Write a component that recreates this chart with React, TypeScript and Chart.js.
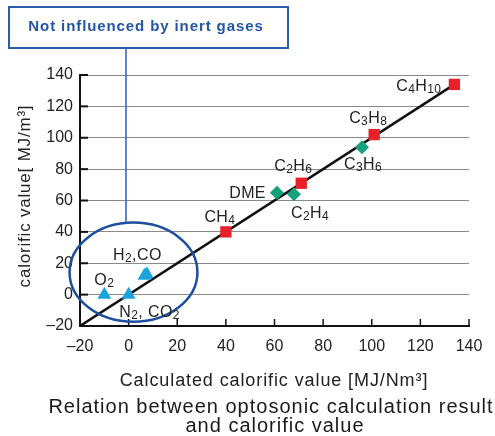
import React, { useEffect, useRef } from 'react';
import { Chart, registerables } from 'chart.js';

Chart.register(...registerables);

// ---- data ----
const alkaneNames = ['CH_4', 'C_2H_6', 'C_3H_8', 'C_4H_{10}'];
const alkaneX = [40, 71, 101, 134];
const alkaneY = [40, 71, 102, 134];

const otherNames = ['DME', 'C_2H_4', 'C_3H_6'];
const otherX = [61, 68, 96];
const otherY = [65, 64, 94];

const inertNames = ['O_2', 'N_2, CO_2', 'H_2,CO', ''];
const inertX = [-10, 0, 6.5, 7.5];
const inertY = [0, 0, 12, 13];

const fitX = [-20, 134];
const fitY = [-20, 134];

const xTickLabels = ['–20', '0', '20', '40', '60', '80', '100', '120', '140'];
const yTickLabels = ['–20', '0', '20', '40', '60', '80', '100', '120', '140'];

const ellipseCenter = [2, 14.3];
const ellipseRadii = [26.3, 31.6];

const calloutText = 'Not influenced by inert gases';
const xTitle = 'Calculated calorific value [MJ/Nm³]';
const yTitle = 'calorific value[ MJ/m³]';
const chartTitle = ['Relation between optosonic calculation result', 'and calorific value'];

// label placement (pixel offsets from the point, and alignment)
const alkaneLabelPos: [number, number, CanvasTextAlign][] = [
  [-6, -16, 'center'],
  [-8, -18, 'center'],
  [-6, -17, 'center'],
  [-13, 1, 'right'],
];
const otherLabelPos: [number, number, CanvasTextAlign][] = [
  [-11, 0, 'right'],
  [16, 18, 'center'],
  [1, 16, 'center'],
];
const inertLabelPos: [number, number, CanvasTextAlign][] = [
  [0, -15, 'center'],
  [21, 17, 'center'],
  [-7, -22, 'center'],
  [0, 0, 'center'],
];

const FONT = '"Liberation Sans", Arial, Helvetica, sans-serif';
const TEXT = '#222222';
const BLUE_DARK = '#1d4f9e';
const BOX_BLUE = '#2a5eab';

function parseRich(text: string) {
  const segs: { t: string; sub: boolean }[] = [];
  let i = 0;
  let buf = '';
  while (i < text.length) {
    const c = text[i];
    if (c === '_') {
      if (buf) { segs.push({ t: buf, sub: false }); buf = ''; }
      if (text[i + 1] === '{') {
        const end = text.indexOf('}', i + 2);
        segs.push({ t: text.slice(i + 2, end), sub: true });
        i = end + 1;
      } else {
        segs.push({ t: text[i + 1], sub: true });
        i += 2;
      }
    } else {
      buf += c;
      i++;
    }
  }
  if (buf) segs.push({ t: buf, sub: false });
  return segs;
}

function drawRich(ctx: CanvasRenderingContext2D, text: string, x: number, cy: number, align: CanvasTextAlign, size: number) {
  const segs = parseRich(text);
  const subSize = Math.round(size * 0.72);
  const mainFont = `${size}px ${FONT}`;
  const subFont = `${subSize}px ${FONT}`;
  (ctx as any).letterSpacing = '0.4px';
  let total = 0;
  const widths = segs.map((s) => {
    ctx.font = s.sub ? subFont : mainFont;
    const w = ctx.measureText(s.t).width;
    total += w;
    return w;
  });
  let sx = x;
  if (align === 'center') sx = x - total / 2;
  else if (align === 'right') sx = x - total;
  const baseline = cy + size * 0.36;
  ctx.textAlign = 'left';
  ctx.textBaseline = 'alphabetic';
  ctx.fillStyle = TEXT;
  segs.forEach((s, k) => {
    ctx.font = s.sub ? subFont : mainFont;
    ctx.fillText(s.t, sx, s.sub ? baseline + 2 : baseline);
    sx += widths[k];
  });
  (ctx as any).letterSpacing = '0px';
}

const overlayPlugin = {
  id: 'overlay',
  beforeDatasetsDraw(chart: any) {
    const { ctx, scales, chartArea } = chart;
    const xs = scales.x;
    const ys = scales.y;
    ctx.save();
    ctx.strokeStyle = '#111';
    ctx.lineWidth = 2;
    ys.ticks.forEach((t: any) => {
      const py = ys.getPixelForValue(t.value);
      ctx.beginPath();
      ctx.moveTo(chartArea.left, py);
      ctx.lineTo(chartArea.left + 8, py);
      ctx.stroke();
    });
    ctx.lineWidth = 1.5;
    xs.ticks.forEach((t: any) => {
      const px = xs.getPixelForValue(t.value);
      ctx.beginPath();
      ctx.moveTo(px, chartArea.bottom);
      ctx.lineTo(px, chartArea.bottom - 7);
      ctx.stroke();
    });
    ctx.restore();
  },
  afterDatasetsDraw(chart: any) {
    const { ctx, scales } = chart;
    const xs = scales.x;
    const ys = scales.y;
    ctx.save();
    const cx = xs.getPixelForValue(ellipseCenter[0]);
    const cy = ys.getPixelForValue(ellipseCenter[1]);
    const rx = Math.abs(xs.getPixelForValue(ellipseCenter[0] + ellipseRadii[0]) - cx);
    const ry = Math.abs(ys.getPixelForValue(ellipseCenter[1] + ellipseRadii[1]) - cy);
    ctx.strokeStyle = BLUE_DARK;
    ctx.lineWidth = 2.5;
    ctx.beginPath();
    ctx.ellipse(cx, cy, rx, ry, 0, 0, Math.PI * 2);
    ctx.stroke();

    ctx.strokeStyle = BOX_BLUE;
    ctx.lineWidth = 1.5;
    const lx = 126;
    const dx = (lx - cx) / rx;
    const topY = cy - ry * Math.sqrt(Math.max(0, 1 - dx * dx));
    ctx.beginPath();
    ctx.moveTo(lx, 48);
    ctx.lineTo(lx, topY);
    ctx.stroke();

    const groups: [string[], number[], number[], [number, number, CanvasTextAlign][]][] = [
      [alkaneNames, alkaneX, alkaneY, alkaneLabelPos],
      [otherNames, otherX, otherY, otherLabelPos],
      [inertNames, inertX, inertY, inertLabelPos],
    ];
    groups.forEach(([names, gx, gy, pos]) => {
      names.forEach((n, i) => {
        if (!n) return;
        const px = xs.getPixelForValue(gx[i]) + pos[i][0];
        const py = ys.getPixelForValue(gy[i]) + pos[i][1];
        drawRich(ctx, n, px, py, pos[i][2], 16);
      });
    });
    ctx.restore();
  },
  afterDraw(chart: any) {
    const { ctx } = chart;
    ctx.save();
    ctx.strokeStyle = BOX_BLUE;
    ctx.lineWidth = 2;
    ctx.strokeRect(9, 7, 279, 41);
    ctx.fillStyle = '#2456a6';
    ctx.font = `bold 15px ${FONT}`;
    (ctx as any).letterSpacing = '0.9px';
    ctx.textAlign = 'center';
    ctx.textBaseline = 'middle';
    ctx.fillText(calloutText, 146, 27);

    ctx.fillStyle = TEXT;
    ctx.font = `18px ${FONT}`;
    (ctx as any).letterSpacing = '0.9px';
    ctx.fillText(xTitle, 274, 381);

    ctx.save();
    ctx.translate(25, 196);
    ctx.rotate(-Math.PI / 2);
    ctx.font = `17px ${FONT}`;
    (ctx as any).letterSpacing = '0.8px';
    ctx.fillText(yTitle, 0, 0);
    ctx.restore();

    ctx.fillStyle = '#1a1a1a';
    ctx.font = `20px ${FONT}`;
    (ctx as any).letterSpacing = '1px';
    ctx.fillText(chartTitle[0], 271, 407);
    ctx.fillText(chartTitle[1], 275, 426);
    (ctx as any).letterSpacing = '0px';
    ctx.restore();
  },
};

export default function App() {
  const ref = useRef<HTMLCanvasElement | null>(null);

  useEffect(() => {
    if (!ref.current) return;
    const pts = (xs: number[], ys: number[]) => xs.map((x, i) => ({ x, y: ys[i] }));
    const tickFont = { family: FONT, size: 16 };
    const chart = new Chart(ref.current, {
      type: 'scatter',
      data: {
        datasets: [
          {
            type: 'line',
            data: pts(fitX, fitY),
            borderColor: '#111',
            borderWidth: 2.5,
            pointRadius: 0,
            showLine: true,
            order: 10,
          } as any,
          {
            data: pts(alkaneX, alkaneY),
            pointStyle: 'rect',
            pointRadius: 8,
            backgroundColor: '#e8202a',
            borderWidth: 0,
            order: 1,
          },
          {
            data: pts(otherX, otherY),
            pointStyle: 'rectRot',
            pointRadius: 7,
            backgroundColor: '#16a07c',
            borderWidth: 0,
            order: 1,
          },
          {
            data: pts(inertX, inertY),
            pointStyle: 'triangle',
            pointRadius: 8,
            backgroundColor: '#1ba3de',
            borderWidth: 0,
            order: 1,
          },
        ],
      },
      options: {
        responsive: false,
        animation: false,
        layout: { padding: { top: 75, right: 26, left: 0, bottom: 0 } },
        plugins: { legend: { display: false }, tooltip: { enabled: false } },
        scales: {
          x: {
            type: 'linear',
            min: -20,
            max: 140,
            ticks: {
              stepSize: 20,
              font: tickFont,
              color: TEXT,
              padding: 11,
              maxRotation: 0,
              callback: (_v: any, i: number) => xTickLabels[i],
            },
            grid: { drawOnChartArea: false, drawTicks: false },
            border: { display: true, color: '#111', width: 2 },
            afterFit: (s: any) => { s.height = 110; },
          },
          y: {
            type: 'linear',
            min: -20,
            max: 140,
            ticks: {
              stepSize: 20,
              font: tickFont,
              color: TEXT,
              padding: 7,
              callback: (_v: any, i: number) => yTickLabels[i],
            },
            grid: {
              drawTicks: false,
              lineWidth: 1,
              color: (c: any) => (c.tick && c.tick.value === -20 ? 'rgba(0,0,0,0)' : '#8a8a8a'),
            },
            border: { display: true, color: '#111', width: 2 },
            afterFit: (s: any) => { s.width = 80; },
          },
        },
      },
      plugins: [overlayPlugin],
    });
    return () => chart.destroy();
  }, []);

  return (
    <div style={{ position: 'absolute', left: 0, top: 0, width: 495, height: 436, background: '#fff' }}>
      <canvas ref={ref} width={495} height={436} style={{ display: 'block' }} />
    </div>
  );
}
